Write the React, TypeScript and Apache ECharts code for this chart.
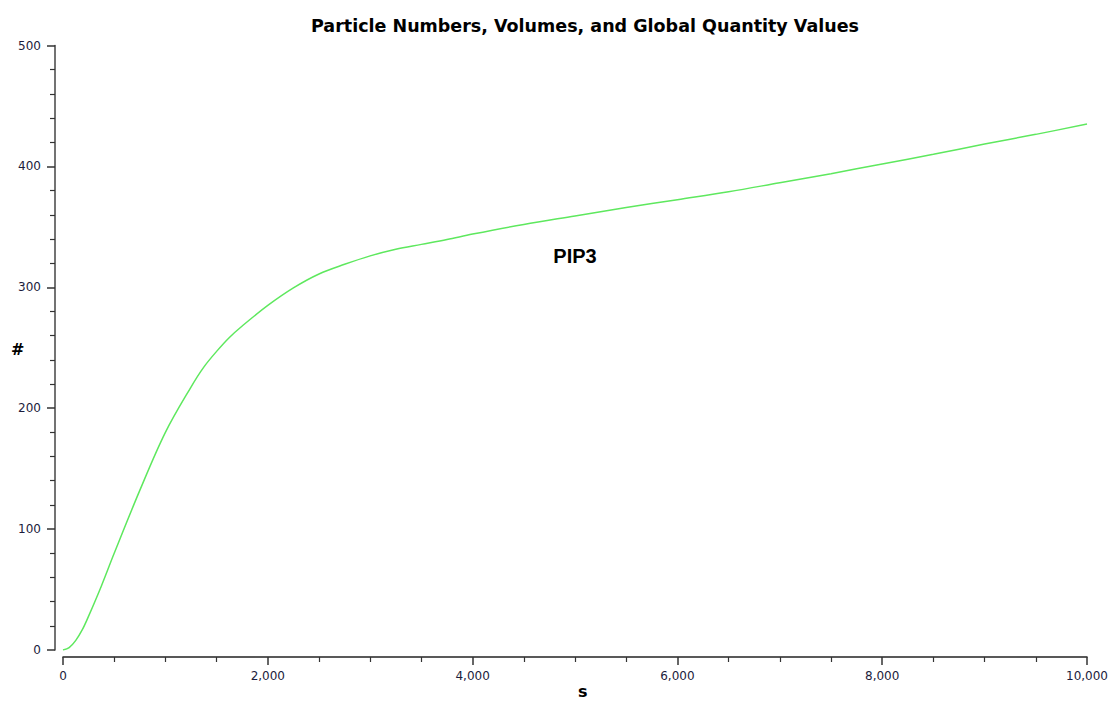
import React, { useEffect, useRef } from "react";
import * as echarts from "echarts";

const timeValues = [0, 60, 125, 190, 250, 375, 500, 750, 1000, 1250, 1375, 1500, 1625, 1750, 2000, 2250, 2500, 2750, 3000, 3250, 3500, 3750, 4000, 4500, 5000, 5500, 6000, 6500, 7000, 7500, 8000, 8500, 9000, 9500, 10000];
const pip3Values = [0, 2, 8, 17, 28, 53, 80, 132, 180, 217.5, 234, 247, 258.5, 268, 285, 299.5, 311, 319, 326, 331.5, 335.5, 339.5, 344, 352, 359, 366, 372.5, 379, 386.5, 394, 402, 410, 418.5, 426.5, 435];
const seriesName = "PIP3";
const labelPos = [5000, 326];
const titleText = "Particle Numbers, Volumes, and Global Quantity Values";
const xName = "s";
const yName = "#";

export default function App() {
  const ref = useRef<HTMLDivElement>(null);
  useEffect(() => {
    document.body.style.margin = "0";
    const chart = echarts.init(ref.current!, null, { renderer: "svg" });
    const labelColor = "#1c1c3c";
    chart.setOption({
      animation: false,
      backgroundColor: "#ffffff",
      title: {
        text: titleText,
        left: 580,
        top: 12,
        textAlign: "center",
        textStyle: { fontFamily: "DejaVu Sans", fontWeight: "bold", fontSize: 17.5, color: "#000" },
      },
      grid: { left: 63, right: 28, top: 45.5, bottom: 52, containLabel: false },
      xAxis: {
        type: "value",
        min: 0,
        max: 10000,
        interval: 2000,
        offset: 7,
        axisLine: { show: true, onZero: false, lineStyle: { color: "#222", width: 1.5 } },
        axisTick: { show: true, length: 8, lineStyle: { color: "#333", width: 1.5 } },
        minorTick: { show: true, splitNumber: 4, length: 5, lineStyle: { color: "#333", width: 1.2 } },
        splitLine: { show: false },
        axisLabel: {
          margin: 13,
          fontFamily: "DejaVu Sans",
          fontSize: 12,
          color: labelColor,
          formatter: (v: number) => v.toLocaleString("en-US"),
        },
      },
      yAxis: {
        type: "value",
        min: 0,
        max: 500,
        interval: 100,
        offset: 8,
        axisLine: { show: true, onZero: false, lineStyle: { color: "#444", width: 1.5 } },
        axisTick: { show: true, length: 8, lineStyle: { color: "#333", width: 1.5 } },
        minorTick: { show: true, splitNumber: 5, length: 5, lineStyle: { color: "#333", width: 1.2 } },
        splitLine: { show: false },
        axisLabel: { margin: 14, fontFamily: "DejaVu Sans", fontSize: 12, color: labelColor },
      },
      graphic: [
        { type: "text", left: 11, top: 341, style: { text: yName, font: "bold 16px 'DejaVu Sans'", fill: "#000" } },
        { type: "text", left: 578, top: 683, style: { text: xName, font: "bold 16px 'DejaVu Sans'", fill: "#000" } },
      ],
      series: [
        {
          name: seriesName,
          type: "line",
          data: timeValues.map((t, i) => [t, pip3Values[i]]),
          smooth: 0.35,
          showSymbol: false,
          lineStyle: { color: "#5ee85e", width: 1.5 },
        },
        {
          name: seriesName + " label",
          type: "scatter",
          symbol: "circle",
          symbolSize: 0,
          data: [labelPos],
          itemStyle: { opacity: 1, color: "#000" },
          label: {
            show: true,
            position: "inside",
            formatter: seriesName,
            fontFamily: "Liberation Sans",
            fontWeight: "bold",
            fontSize: 20,
            color: "#000000",
          },
        },
      ],
    });
    return () => chart.dispose();
  }, []);
  return <div ref={ref} style={{ width: 1115, height: 702 }} />;
}
